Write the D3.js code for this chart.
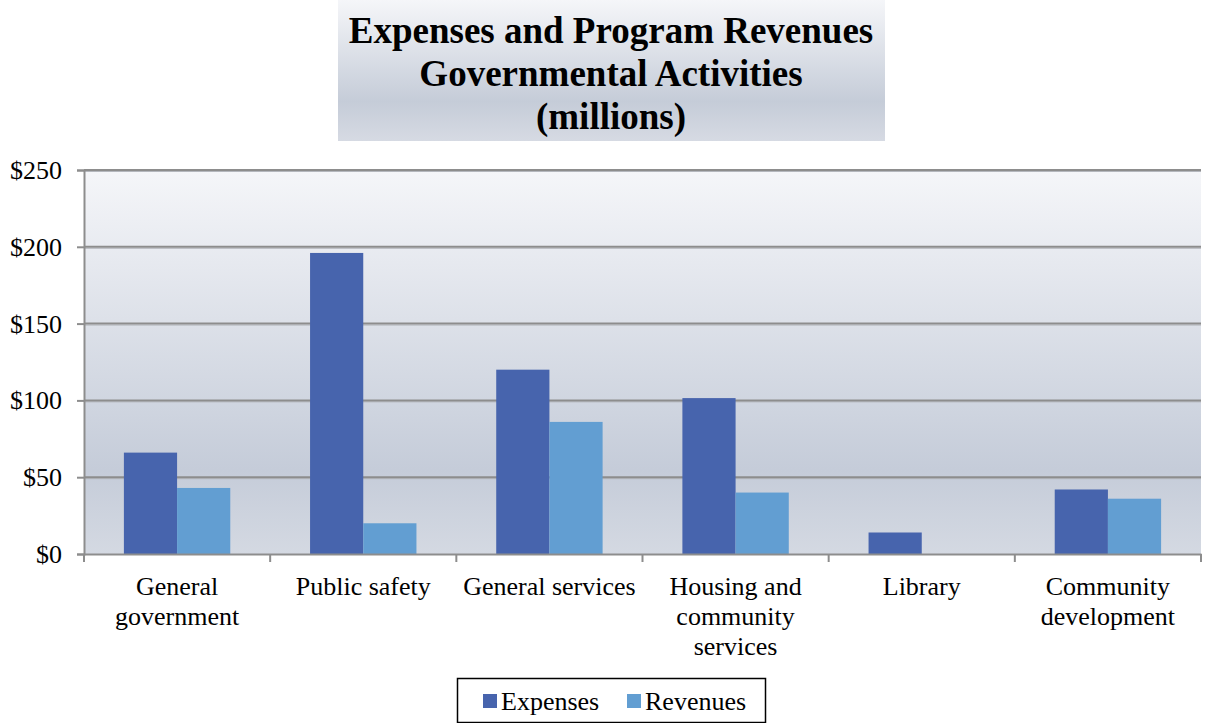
<!DOCTYPE html>
<html>
<head>
<meta charset="utf-8">
<script src="https://cdn.jsdelivr.net/npm/d3@7"></script>
<style>
  html, body { margin: 0; padding: 0; background: #ffffff; }
  svg { display: block; font-family: "Liberation Serif", "Times New Roman", serif; }
  svg text { font-family: "Liberation Serif", "Times New Roman", serif; }
</style>
</head>
<body>
<svg id="chart" width="1209" height="723"></svg>
<script>
// Governmental activities, millions of dollars
const categories = [
  ["General", "government"],
  ["Public safety"],
  ["General services"],
  ["Housing and", "community", "services"],
  ["Library"],
  ["Community", "development"]
];
const seriesNames = ["Expenses", "Revenues"];
const expenses = [66, 196, 120, 101.5, 14, 42];
const revenues = [43, 20, 86, 40, 0, 36];
const yTicks = [0, 50, 100, 150, 200, 250];
const titleLines = ["Expenses and Program Revenues", "Governmental Activities", "(millions)"];

const colors = { Expenses: "#4764ad", Revenues: "#629ed2" };

const svg = d3.select("#chart");
const defs = svg.append("defs");

const plot = { left: 84, right: 1201, top: 170, bottom: 554 };

function addGradient(id, stops) {
  const g = defs.append("linearGradient").attr("id", id)
    .attr("x1", 0).attr("y1", 0).attr("x2", 0).attr("y2", 1);
  stops.forEach(([o, c]) => g.append("stop").attr("offset", o).attr("stop-color", c));
}
addGradient("plotFill", [[0, "#f5f6f9"], [0.78, "#c5ccd9"], [1, "#d4d9e2"]]);
addGradient("titleFill", [[0, "#f5f6f9"], [0.72, "#c5ccd8"], [1, "#d6dae3"]]);

// Title box
svg.append("rect")
  .attr("x", 338).attr("y", 0).attr("width", 547).attr("height", 141)
  .attr("fill", "url(#titleFill)");
svg.append("g").selectAll("text").data(titleLines).join("text")
  .attr("x", 611).attr("y", (d, i) => 43 + i * 43)
  .attr("text-anchor", "middle")
  .attr("font-size", 37).attr("font-weight", "bold").attr("fill", "#000")
  .text(d => d);

// Scales
const x = d3.scaleBand()
  .domain(d3.range(categories.length))
  .range([plot.left, plot.right])
  .padding(0);
const bw = x.bandwidth() / 3.5; // 150% gap between groups
const xs = d3.scaleBand()
  .domain(seriesNames)
  .range([(x.bandwidth() - 2 * bw) / 2, (x.bandwidth() + 2 * bw) / 2])
  .padding(0);
const y = d3.scaleLinear().domain([0, 250]).range([plot.bottom, plot.top]);

// Plot background
svg.append("rect")
  .attr("x", plot.left).attr("y", plot.top)
  .attr("width", plot.right - plot.left).attr("height", plot.bottom - plot.top)
  .attr("fill", "url(#plotFill)");

// Gridlines
const grid = svg.append("g");
grid.selectAll("line.shadow").data(yTicks.filter(t => t > 0)).join("line")
  .attr("class", "shadow")
  .attr("x1", plot.left).attr("x2", plot.right)
  .attr("y1", d => y(d) + 1.5).attr("y2", d => y(d) + 1.5)
  .attr("stroke", "#b4b7bd").attr("stroke-width", 1);
grid.selectAll("line.main").data(yTicks.filter(t => t > 0)).join("line")
  .attr("class", "main")
  .attr("x1", plot.left).attr("x2", plot.right)
  .attr("y1", d => y(d)).attr("y2", d => y(d))
  .attr("stroke", "#8d8d8d").attr("stroke-width", 2);

// Bars
const rows = categories.map((c, i) => ({ i, values: [expenses[i], revenues[i]] }));
const groups = svg.append("g").selectAll("g").data(rows).join("g")
  .attr("transform", d => `translate(${x(d.i)},0)`);
groups.selectAll("rect")
  .data(d => seriesNames.map((s, k) => ({ s, v: d.values[k] })))
  .join("rect")
  .attr("x", d => xs(d.s))
  .attr("width", xs.bandwidth())
  .attr("y", d => y(d.v))
  .attr("height", d => y(0) - y(d.v))
  .attr("fill", d => colors[d.s]);

// Y axis
const yAxis = svg.append("g")
  .attr("transform", `translate(${plot.left},0)`)
  .call(d3.axisLeft(y).tickValues(yTicks).tickFormat(d => "$" + d).tickSize(7).tickPadding(15));
yAxis.attr("font-family", null);
yAxis.select(".domain").attr("stroke", "#8d8d8d").attr("stroke-width", 2);
yAxis.selectAll(".tick line").attr("stroke", "#8d8d8d").attr("stroke-width", 2);
yAxis.selectAll(".tick text")
  .attr("font-size", 26).attr("fill", "#000").attr("dy", "0.33em");

// X axis
const xAxis = svg.append("g")
  .attr("transform", `translate(0,${plot.bottom})`)
  .call(d3.axisBottom(x).tickFormat("").tickSize(0));
xAxis.select(".domain").attr("stroke", "#8d8d8d").attr("stroke-width", 2);
xAxis.selectAll(".tick").remove();
const boundaries = d3.range(categories.length + 1).map(i => plot.left + i * x.step());
xAxis.selectAll("line.cat").data(boundaries).join("line")
  .attr("class", "cat")
  .attr("x1", d => d).attr("x2", d => d)
  .attr("y1", 0).attr("y2", 8)
  .attr("stroke", "#8d8d8d").attr("stroke-width", 2);

// Category labels
const labels = svg.append("g").selectAll("text").data(categories).join("text")
  .attr("text-anchor", "middle")
  .attr("font-size", 26).attr("fill", "#000");
labels.selectAll("tspan").data((d, i) => d.map(line => ({ line, i }))).join("tspan")
  .attr("x", d => x(d.i) + x.bandwidth() / 2)
  .attr("y", (d, j) => 595 + j * 30)
  .text(d => d.line);

// Legend
const legend = svg.append("g");
legend.append("rect")
  .attr("x", 457.5).attr("y", 678.5).attr("width", 308).attr("height", 44)
  .attr("fill", "#fff").attr("stroke", "#000").attr("stroke-width", 1.5);
const legendItems = [
  { s: "Expenses", x: 483 },
  { s: "Revenues", x: 627 }
];
legend.selectAll("rect.sw").data(legendItems).join("rect")
  .attr("class", "sw")
  .attr("x", d => d.x).attr("y", 694).attr("width", 14).attr("height", 14)
  .attr("fill", d => colors[d.s]);
legend.selectAll("text").data(legendItems).join("text")
  .attr("x", d => d.x + 18).attr("y", 710)
  .attr("font-size", 26).attr("fill", "#000")
  .text(d => d.s);
</script>
</body>
</html>
